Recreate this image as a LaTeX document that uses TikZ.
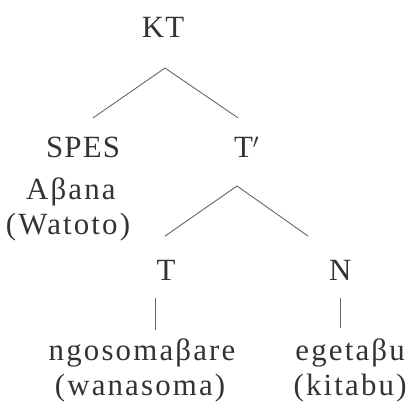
\documentclass[tikz,border=0pt]{standalone}
\usepackage{fontspec}
\setmainfont{Liberation Serif}[LetterSpace=4]
\newfontfamily\wordfont{Liberation Serif}[LetterSpace=7]
\usepackage{tikz}
\usetikzlibrary{positioning,calc}
\tikzset{
    cat/.style={anchor=base, inner sep=0pt, text=black!80, font=\fontsize{31}{36}\selectfont},
    word/.style={cat, font=\wordfont\fontsize{31}{36}\selectfont},
    branch/.style={draw=black!60, line width=0.9pt},
}

\begin{document}
\begin{tikzpicture}[scale=1]
    \useasboundingbox (0,0) rectangle (14.71,-14.39);

    % Upper level
    \node[cat] (KT) at (5.75,-1.31) {KT};
    \node[cat] (SPES) at (2.93,-5.54) {SPES};
    \node[cat] (Tbar) at (8.70,-5.54) {T$^{\prime}$};
    \node[word] (Abana) at (2.50,-7.02) {Aβana};
    \node[word] (Watoto) at (2.40,-8.26) {(Watoto)};
    \draw[branch] ($(KT.base)+(0.07,-1.09)$) -- ($(SPES.base)+(0.35,1.38)$);
    \draw[branch] ($(KT.base)+(0.07,-1.09)$) -- ($(Tbar.base)+(-0.30,1.38)$);

    % Lower level
    \node[cat] (T) at (5.86,-9.88) {T};
    \node[cat] (N) at (12.00,-9.88) {N};
    \draw[branch] ($(Tbar.base)+(-0.34,-1.02)$) -- ($(T.base)+(-0.04,1.55)$);
    \draw[branch] ($(Tbar.base)+(-0.34,-1.02)$) -- ($(N.base)+(-1.13,1.55)$);

    % Words
    \node[word] (verb) at (5.01,-12.70) {ngosomaβare};
    \node[word] (verbSw) at (4.94,-13.94) {(wanasoma)};
    \node[word] (noun) at (12.35,-12.70) {egetaβu};
    \node[word] (nounSw) at (12.35,-13.94) {(kitabu)};
    \draw[branch] ($(T.base)+(-0.39,-0.63)$) -- ($(T.base)+(-0.39,-1.76)$);
    \draw[branch] ($(N.base)+(0,-0.63)$) -- ($(N.base)+(0,-1.69)$);
\end{tikzpicture}
\end{document}
